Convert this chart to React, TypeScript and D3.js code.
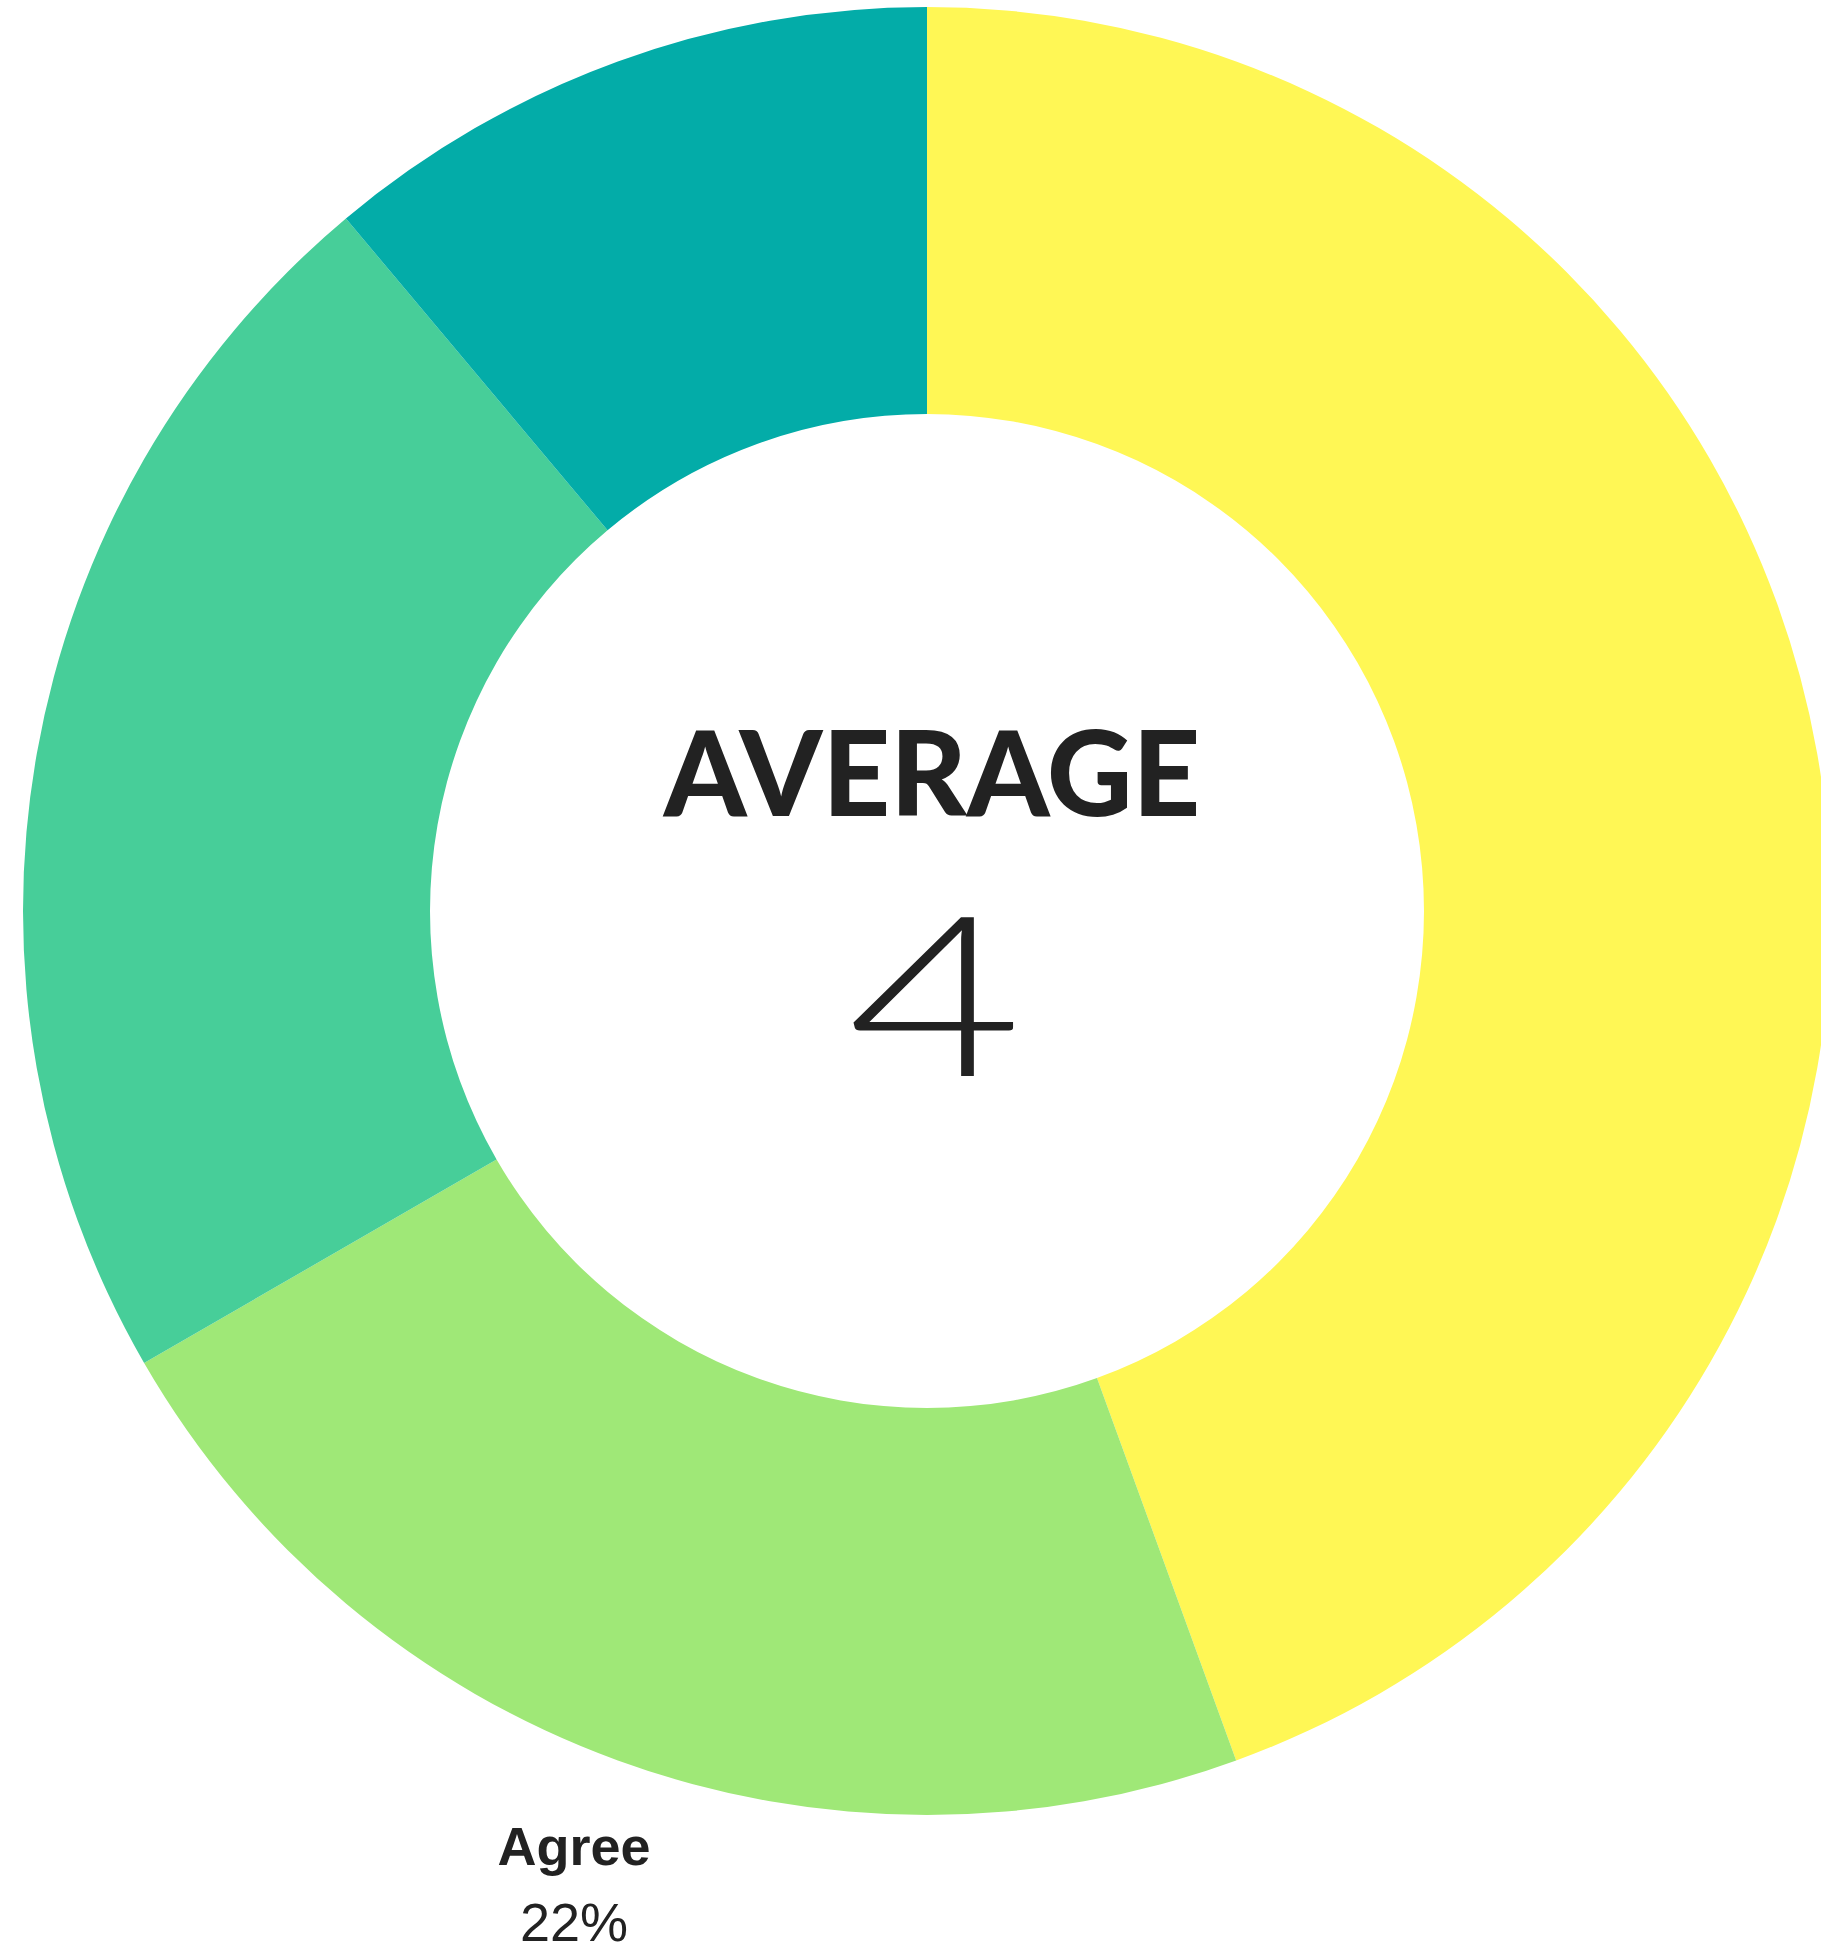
import * as React from "react";
import * as d3 from "d3";

// survey answers, clockwise from 12 o'clock
const categories = ["Strongly Agree", "Agree", "Neutral", "Disagree"];
const counts = [4, 2, 2, 1];
const colors = ["#FFF755", "#9FE877", "#47CE99", "#03ACA8"];
const centerTitle = "AVERAGE";
const centerValue = "4";

const WIDTH = 1821;
const HEIGHT = 1947;

export default function App() {
  const cx = 927;
  const cy = 911;
  const outerRadius = 904;
  const innerRadius = 497;

  const rows = categories.map((c, i) => ({ label: c, value: counts[i], color: colors[i] }));
  const total = d3.sum(counts);

  const pie = d3.pie<any>().sort(null).value((d) => d.value);
  const arc = d3.arc<any>().innerRadius(innerRadius).outerRadius(outerRadius);
  const labelArc = d3.arc<any>().innerRadius(1032).outerRadius(1032);
  const pct = (v: number) => d3.format(".0%")(v / total);

  const slices = pie(rows);

  // labels that would run past the page edge are dropped (they are not shown in the chart)
  const labelFits = (s: any) => {
    const [x, y] = labelArc.centroid(s);
    const halfW = s.data.label.length * 15;
    return cx + x - halfW > 0 && cx + x + halfW < WIDTH && cy + y - 60 > 0 && cy + y + 70 < HEIGHT + 10;
  };

  return (
    <svg
      width={WIDTH}
      height={HEIGHT}
      style={{ position: "absolute", left: 0, top: 0, background: "#fff" }}
    >
      <g transform={`translate(${cx},${cy})`}>
        {slices.map((s, i) => (
          <path key={i} d={arc(s) || ""} fill={s.data.color} />
        ))}
        {slices.filter(labelFits).map((s, i) => {
          const [x, y] = labelArc.centroid(s);
          return (
            <g key={"l" + i} transform={`translate(${x},${y})`} fill="#222" textAnchor="middle"
              fontFamily="'Liberation Sans', Arial, sans-serif" fontSize={54}>
              <text y={-16} fontWeight="bold">{s.data.label}</text>
              <text y={60}>{pct(s.data.value)}</text>
            </g>
          );
        })}
        <text
          x={5}
          y={-95}
          textAnchor="middle"
          fill="#222"
          fontFamily="Lato, 'DejaVu Sans', sans-serif"
          fontWeight={900}
          fontSize={118}
        >
          {centerTitle}
        </text>
        <g transform="translate(8,165) scale(1.35,1)">
          <text
            textAnchor="middle"
            fill="#222"
            fontFamily="Lato, 'DejaVu Sans', sans-serif"
            fontWeight={300}
            fontSize={224}
          >
            {centerValue}
          </text>
        </g>
      </g>
    </svg>
  );
}
